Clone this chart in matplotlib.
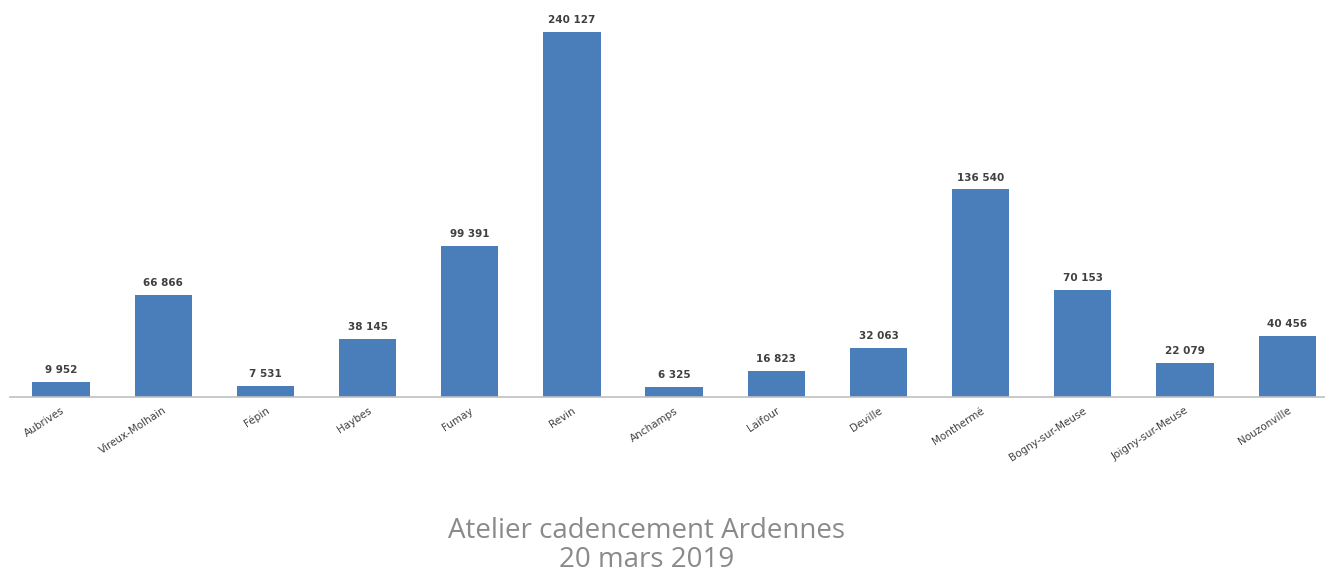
import matplotlib
matplotlib.use("Agg")
import matplotlib.pyplot as plt

communes = ["Aubrives", "Vireux-Molhain", "Fépin", "Haybes", "Fumay", "Revin",
            "Anchamps", "Laifour", "Deville", "Monthermé", "Bogny-sur-Meuse",
            "Joigny-sur-Meuse", "Nouzonville"]
valeurs = [9952, 66866, 7531, 38145, 99391, 240127,
           6325, 16823, 32063, 136540, 70153, 22079, 40456]

W, H = 1325, 575
fig = plt.figure(figsize=(W / 100, H / 100), dpi=100)
base_px = 397
top_px = 10
ax = fig.add_axes([10 / W, (H - base_px) / H, (W - 10) / W, (base_px - top_px) / H])

x = list(range(len(communes)))
ax.bar(x, valeurs, width=0.56, color="#4a7ebb", zorder=2)

ymax = max(valeurs) * (base_px - top_px) / (base_px - 32)
ax.set_ylim(0, ymax)
ax.set_xlim(-0.5, -0.5 + (W - 10) / 102.17)

def fmt(v):
    return f"{v:,}".replace(",", " ")

for xi, v in zip(x, valeurs):
    ax.annotate(fmt(v), (xi, v), xytext=(0, 5), textcoords="offset points",
                ha="center", va="bottom", fontsize=7.5, fontweight="bold",
                color="#404040", family="DejaVu Sans")

for s in ["top", "right", "left"]:
    ax.spines[s].set_visible(False)
ax.spines["bottom"].set_color("#c0c0c0")
ax.spines["bottom"].set_linewidth(1.2)
ax.set_yticks([])
ax.set_xticks(x)
ax.set_xticklabels(communes, rotation=33, ha="right", rotation_mode="anchor",
                   fontsize=7.5, color="#404040")
ax.tick_params(axis="x", length=0, pad=6)

title_x = 647 / W
fig.text(title_x, 1 - 531 / H, "Atelier cadencement Ardennes", ha="center", va="center",
         fontsize=20, color="#8a8a8a", family="Open Sans")
fig.text(title_x, 1 - 560 / H, "20 mars 2019", ha="center", va="center",
         fontsize=20, color="#8a8a8a", family="Open Sans")

fig.savefig("out.png", dpi=100)
